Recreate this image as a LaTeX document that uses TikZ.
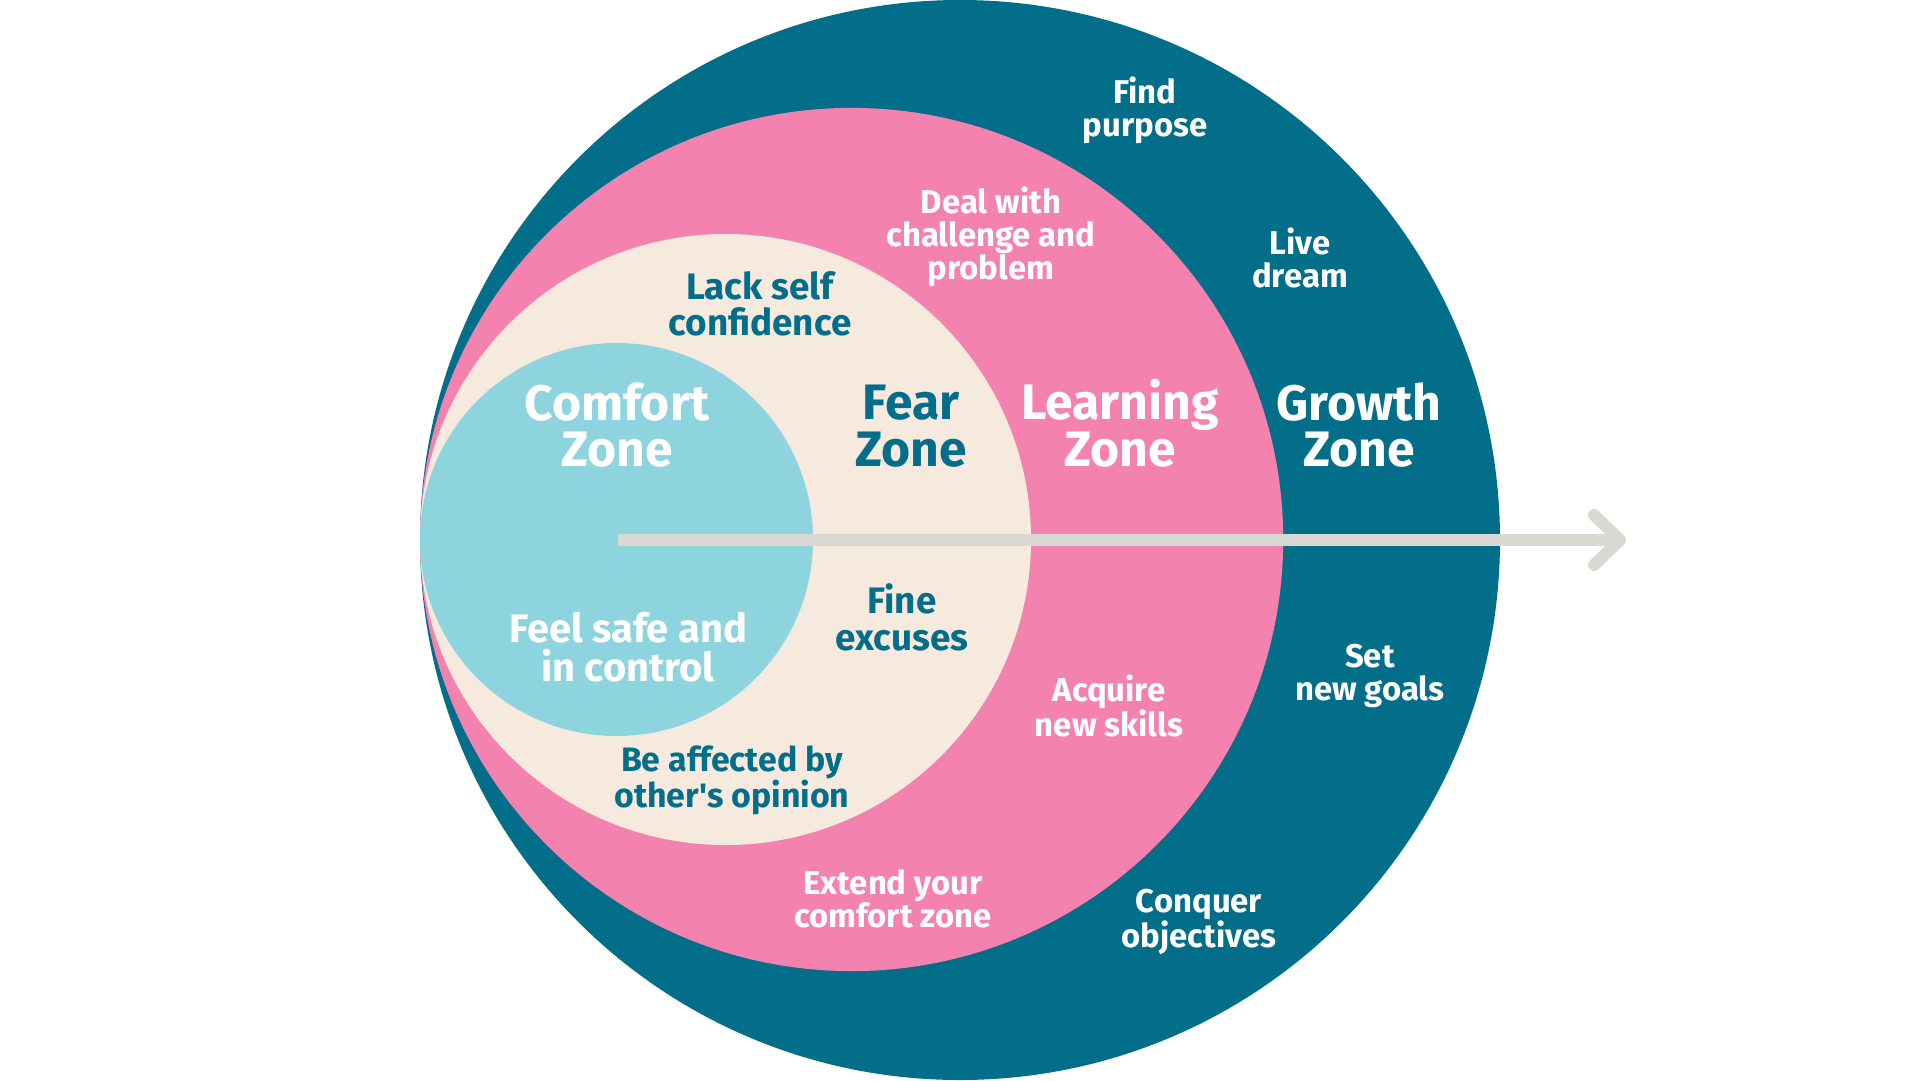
\documentclass[tikz,border=0pt]{standalone}
\usepackage{fontspec}
\newfontfamily\zonefont{Fira Sans}
\usepackage{xcolor}
\usepackage{tikz}
\usetikzlibrary{arrows.meta, positioning}

\definecolor{growthteal}{HTML}{036E8A}
\definecolor{learnpink}{HTML}{F482AF}
\definecolor{fearbeige}{HTML}{F6EADF}
\definecolor{comfortblue}{HTML}{8DD4DE}
\definecolor{arrowgray}{HTML}{D9D8D3}

\begin{document}
\begin{tikzpicture}[
			x=1bp, y=-1bp,
			zone/.style={
				font=\zonefont\bfseries\fontsize{50}{47}\selectfont,
				align=center,
				inner sep=0pt
			},
			note/.style={
				font=\zonefont\bfseries\fontsize{33}{33}\selectfont,
				align=center,
				inner sep=0pt
			},
			arr/.style={-{Straight Barb[length=26bp, width=50bp, round]}, line width=12bp, draw=arrowgray}
			]
			
			\useasboundingbox (0,0) rectangle (1920,1080);
			
			% the four zones
			\fill[growthteal] (960,540) circle[radius=540bp];
			\fill[learnpink] (851.6,539.5) circle[radius=431.6bp];
			\fill[fearbeige] (725.5,539.5) circle[radius=305.5bp];
			\fill[comfortblue] (616.5,539.5) circle[radius=196.5bp];
			
			\coordinate (start) at (618,540);
			\coordinate (end) at (1626,540);
			\draw[arr] (start) -- (end);
			
			\node[zone, white] (comfort) at (617,425) {Comfort\\Zone};
			\node[zone, growthteal] (fear) at (911,426) {Fear\\Zone};
			\node[zone, white] (learning) at (1120,423) {Learning\\Zone};
			\node[zone, white] (growth) at (1359,425) {Growth\\Zone};
			
			\node[note, growthteal, font=\zonefont\bfseries\fontsize{37}{36}\selectfont] (lack) at (760,304) {Lack self\\confidence};
			\node[note, white, font=\zonefont\bfseries\fontsize{40}{39}\selectfont] (safe) at (628,647) {Feel safe and\\in control};
			\node[note, growthteal, font=\zonefont\bfseries\fontsize{37}{37}\selectfont] (excuses) at (902,617) {Fine\\excuses};
			\node[note, growthteal, font=\zonefont\bfseries\fontsize{34}{33}\selectfont] (opinion) at (732,780) {Be affected by\\other's opinion};
			
			\node[note, white] (challenge) at (991,237) {Deal with\\challenge and\\problem};
			\node[note, white] (skills) at (1109,706) {Acquire\\new skills};
			\node[note, white] (extend) at (893,899) {Extend your\\comfort zone};
			
			\node[note, white] (purpose) at (1145,110) {Find\\purpose};
			\node[note, white] (dream) at (1300,258) {Live\\dream};
			\node[note, white] (goals) at (1370,676) {Set\\new goals};
			\node[note, white] (objectives) at (1199,922) {Conquer\\objectives};
			
		\end{tikzpicture}
\end{document}
